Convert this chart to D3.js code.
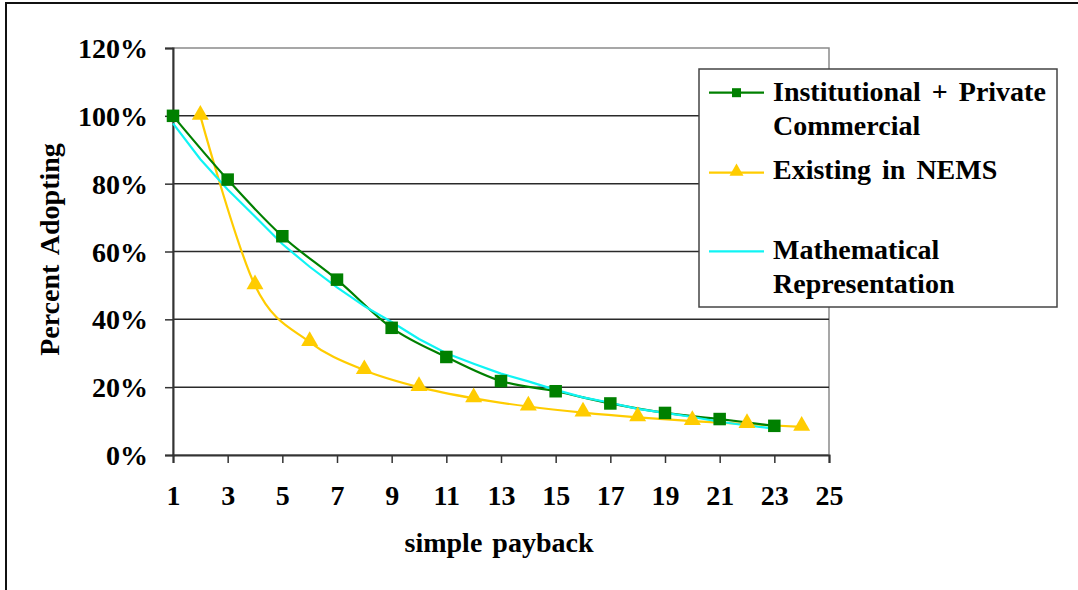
<!DOCTYPE html>
<html>
<head>
<meta charset="utf-8">
<script src="https://cdn.jsdelivr.net/npm/d3@7"></script>
<style>
  html, body { margin: 0; padding: 0; background: #fff; }
  svg { display: block; }
  text { font-family: "Liberation Serif", "Times New Roman", serif; font-weight: bold; fill: #000; }
</style>
</head>
<body>
<svg id="chart" width="1078" height="590"></svg>
<script>
// Adoption share by simple payback period (years)
const paybackInstitutional = [1, 3, 5, 7, 9, 11, 13, 15, 17, 19, 21, 23];
const institutionalPrivate = [100, 81.2, 64.5, 51.7, 37.5, 28.9, 21.8, 18.8, 15.2, 12.4, 10.6, 8.6];

const paybackNems = [2, 4, 6, 8, 10, 12, 14, 16, 18, 20, 22, 24];
const existingNems = [100, 50, 33.3, 25, 20, 16.7, 14.3, 12.5, 11.1, 10, 9.1, 8.3];

const paybackMath = [1, 2, 3, 4, 5, 6, 7, 8, 9, 10, 11, 12, 13, 14, 15, 16, 17, 18, 19, 20, 21, 22, 23];
const mathematical = [97.8, 87.2, 78.3, 70.3, 62.2, 55.5, 49.4, 43.9, 39.2, 34.2, 30.0, 26.9, 24.0,
                      21.7, 19.2, 17.0, 15.4, 13.6, 12.4, 11.2, 9.8, 8.7, 7.8];

const xTicks = [1, 3, 5, 7, 9, 11, 13, 15, 17, 19, 21, 23, 25];
const yTicks = [0, 20, 40, 60, 80, 100, 120];

const seriesNames = ["Institutional + Private", "Commercial", "Existing in NEMS", "Mathematical", "Representation"];

const svg = d3.select("#chart");

// Outer chart frame (runs off the right and bottom edges)
svg.append("rect")
  .attr("x", 6).attr("y", 3).attr("width", 1100).attr("height", 620)
  .attr("fill", "#fff").attr("stroke", "#111").attr("stroke-width", 2);

const plot = { left: 173, right: 829, top: 48, bottom: 455 };

const x = d3.scaleLinear().domain([1, 25]).range([plot.left, plot.right]);
const y = d3.scaleLinear().domain([0, 120]).range([plot.bottom, plot.top]);

// Plot area border (top / right in grey)
svg.append("rect")
  .attr("x", plot.left).attr("y", plot.top)
  .attr("width", plot.right - plot.left).attr("height", plot.bottom - plot.top)
  .attr("fill", "none").attr("stroke", "#8a8a8a").attr("stroke-width", 1.5);

// Horizontal gridlines
svg.append("g")
  .selectAll("line")
  .data(yTicks.filter(d => d > 0 && d < 120))
  .join("line")
  .attr("x1", plot.left).attr("x2", plot.right)
  .attr("y1", d => y(d)).attr("y2", d => y(d))
  .attr("stroke", "#2a2a2a").attr("stroke-width", 1.5);

const tickFont = 28;

// Y axis
const yAxis = svg.append("g")
  .attr("transform", `translate(${plot.left},0)`)
  .call(d3.axisLeft(y).tickValues(yTicks).tickFormat(d => d + "%").tickSize(8).tickPadding(17));
yAxis.select(".domain").attr("stroke", "#333").attr("stroke-width", 2);
yAxis.selectAll(".tick line").attr("stroke", "#333").attr("stroke-width", 1.5);
yAxis.selectAll(".tick text")
  .attr("font-size", tickFont).attr("font-family", "Liberation Serif").attr("font-weight", "bold")
  .attr("fill", "#000").attr("dy", "0.34em");

// X axis
const xAxis = svg.append("g")
  .attr("transform", `translate(0,${plot.bottom})`)
  .call(d3.axisBottom(x).tickValues(xTicks).tickFormat(d3.format("d")).tickSize(8).tickPadding(22));
xAxis.select(".domain").attr("stroke", "#333").attr("stroke-width", 2);
xAxis.selectAll(".tick line").attr("stroke", "#333").attr("stroke-width", 1.5);
xAxis.selectAll(".tick text")
  .attr("font-size", tickFont).attr("font-family", "Liberation Serif").attr("font-weight", "bold")
  .attr("fill", "#000").attr("dy", "0.71em");

// Axis titles
svg.append("text")
  .attr("x", (plot.left + plot.right) / 2 - 2).attr("y", 552)
  .attr("text-anchor", "middle").attr("font-size", 28)
  .attr("word-spacing", 3)
  .text("simple payback");

svg.append("text")
  .attr("transform", `translate(59,${(plot.top + plot.bottom) / 2 - 2}) rotate(-90)`)
  .attr("text-anchor", "middle").attr("font-size", 28)
  .attr("word-spacing", 4)
  .text("Percent Adopting");

const smooth = d3.line().x(d => x(d[0])).y(d => y(d[1])).curve(d3.curveCardinal.tension(0));
const straight = d3.line().x(d => x(d[0])).y(d => y(d[1]));

const green = "#008000", yellow = "#ffcc00", cyan = "#10f4f4";

const instData = d3.zip(paybackInstitutional, institutionalPrivate);
const nemsData = d3.zip(paybackNems, existingNems);
const mathData = d3.zip(paybackMath, mathematical);

// Existing in NEMS
svg.append("path").attr("d", smooth(nemsData))
  .attr("fill", "none").attr("stroke", yellow).attr("stroke-width", 2.2);

// Institutional + Private Commercial
svg.append("path").attr("d", smooth(instData))
  .attr("fill", "none").attr("stroke", green).attr("stroke-width", 2.2);

// Mathematical representation
svg.append("path").attr("d", straight(mathData))
  .attr("fill", "none").attr("stroke", cyan).attr("stroke-width", 2.2);

const tri = d3.symbol().type(d3.symbolTriangle).size(125);
const sq = 12.5;

svg.append("g").selectAll("path")
  .data(nemsData).join("path")
  .attr("d", tri)
  .attr("transform", d => `translate(${x(d[0])},${y(d[1]) - 1})`)
  .attr("fill", yellow);

svg.append("g").selectAll("rect")
  .data(instData).join("rect")
  .attr("x", d => x(d[0]) - sq / 2).attr("y", d => y(d[1]) - sq / 2)
  .attr("width", sq).attr("height", sq)
  .attr("fill", green);

// Legend
const legend = svg.append("g");
legend.append("rect")
  .attr("x", 699).attr("y", 69).attr("width", 358).attr("height", 238)
  .attr("fill", "#fff").attr("stroke", "#444").attr("stroke-width", 1.5);

const lx1 = 709, lx2 = 764, lmid = (lx1 + lx2) / 2, tx = 773;
const sampleY = [92.7, 172.7, 251.3];
const textY = [101, 135, 179, 259, 293.3];

legend.append("line").attr("x1", lx1).attr("x2", lx2).attr("y1", sampleY[0]).attr("y2", sampleY[0])
  .attr("stroke", green).attr("stroke-width", 2.2);
legend.append("rect").attr("x", lmid - 4.5).attr("y", sampleY[0] - 4.5).attr("width", 9).attr("height", 9)
  .attr("fill", green);

legend.append("line").attr("x1", lx1).attr("x2", lx2).attr("y1", sampleY[1]).attr("y2", sampleY[1])
  .attr("stroke", yellow).attr("stroke-width", 2.2);
legend.append("path").attr("d", d3.symbol().type(d3.symbolTriangle).size(85))
  .attr("transform", `translate(${lmid},${sampleY[1] - 1})`).attr("fill", yellow);

legend.append("line").attr("x1", lx1).attr("x2", lx2).attr("y1", sampleY[2]).attr("y2", sampleY[2])
  .attr("stroke", cyan).attr("stroke-width", 2.2);

legend.selectAll("text.lab")
  .data(seriesNames).join("text")
  .attr("class", "lab")
  .attr("x", tx).attr("y", (d, i) => textY[i])
  .attr("font-size", 28)
  .attr("word-spacing", 4)
  .text(d => d);
</script>
</body>
</html>
